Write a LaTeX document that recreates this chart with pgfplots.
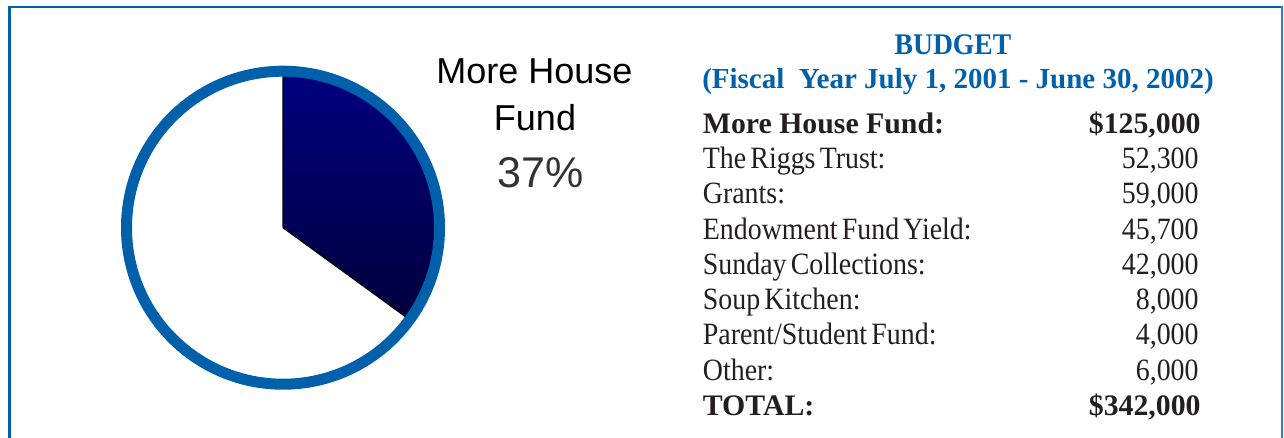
\documentclass[border=0pt]{standalone}
\usepackage{pgfplots}
\pgfplotsset{compat=1.18}
\usepgfplotslibrary{polar}
\usepackage{fontspec}
\setmainfont{Liberation Serif}
\newfontfamily\arial{Liberation Sans}
\newfontfamily\tnr[FakeStretch=0.9,WordSpace=0.6]{Liberation Serif}
\newfontfamily\tnrb[FakeStretch=0.92]{Liberation Serif}

\definecolor{ringblue}{RGB}{0,97,170}
\definecolor{navytop}{RGB}{0,0,128}
\definecolor{navybot}{RGB}{0,0,60}
\definecolor{ink}{RGB}{35,31,32}
\definecolor{pctgrey}{RGB}{51,51,51}

\begin{document}
\begin{tikzpicture}[every node/.style={inner sep=0pt}]
\useasboundingbox (0,0) rectangle (642bp,219bp);
% frame
\draw[ringblue, line width=1.5bp] (4.75bp,-2bp) -- (4.75bp,215.5bp);
\draw[ringblue, line width=1.25bp] (4bp,215.5bp) -- (641.5bp,215.5bp);
\draw[ringblue!80, line width=0.7bp] (640.9bp,216bp) -- (640.9bp,-2bp);

% pie: More House Fund share, angles in degrees, radius 1
\begin{polaraxis}[
  at={(141.5bp,105.15bp)}, anchor=center,
  scale only axis, width=156.5bp, height=156.5bp,
  xtick=\empty, ytick=\empty, ymin=0, ymax=1,
  axis on top,
  separate axis lines,
  x axis line style={draw=ringblue, line width=5.5bp},
  y axis line style={draw=none},
]
\addplot[draw=black, line width=0.6bp, top color=navytop, bottom color=navybot, mark=none]
  coordinates {(0,0) (90,1) (80,1) (70,1) (60,1) (50,1) (40,1) (30,1) (20,1) (10,1)
    (0,1) (-10,1) (-20,1) (-30,1) (-36,1) (0,0)};
\end{polaraxis}

% slice label
\node[anchor=base, font=\arial\fontsize{18bp}{20bp}\selectfont] at (267.25bp,177.25bp) {More House};
\node[anchor=base, font=\arial\fontsize{18bp}{20bp}\selectfont] at (267.5bp,153.5bp) {Fund};
\node[anchor=base, text=pctgrey, font=\arial\fontsize{21.5bp}{24bp}\selectfont] at (270.5bp,125bp) {37\%};

% budget table
\node[anchor=base, text=ringblue, font=\tnrb\bfseries\fontsize{15bp}{16bp}\selectfont] at (476.5bp,191.5bp) {BUDGET};
\node[anchor=base, text=ringblue, font=\bfseries\fontsize{14.5bp}{16bp}\selectfont] at (479bp,174.5bp) {(Fiscal~ Year July 1, 2001 - June 30, 2002)};
\foreach \lab/\val/\bold [count=\k from 0] in {
  More House Fund:/\$125{,}000/1,
  The Riggs Trust:/52{,}300/0,
  Grants:/59{,}000/0,
  Endowment Fund Yield:/45{,}700/0,
  Sunday Collections:/42{,}000/0,
  Soup Kitchen:/8{,}000/0,
  Parent\slash Student Fund:/4{,}000/0,
  Other:/6{,}000/0,
  TOTAL:/\$342{,}000/1} {
  \pgfmathsetmacro\yy{152.25-17.625*\k}
  \ifnum\bold=1
    \node[anchor=base west, text=ink, font=\bfseries\fontsize{14.9bp}{16bp}\selectfont] at (351.25bp,\yy bp) {\lab};
    \node[anchor=base east, text=ink, font=\bfseries\fontsize{14.9bp}{16bp}\selectfont] at (600.5bp,\yy bp) {\val};
  \else
    \node[anchor=base west, text=ink, font=\tnr\fontsize{15.5bp}{16bp}\selectfont] at (351.25bp,\yy bp) {\lab};
    \node[anchor=base east, text=ink, font=\tnr\fontsize{15.5bp}{16bp}\selectfont] at (599.5bp,\yy bp) {\val};
  \fi
}
\end{tikzpicture}
\end{document}
